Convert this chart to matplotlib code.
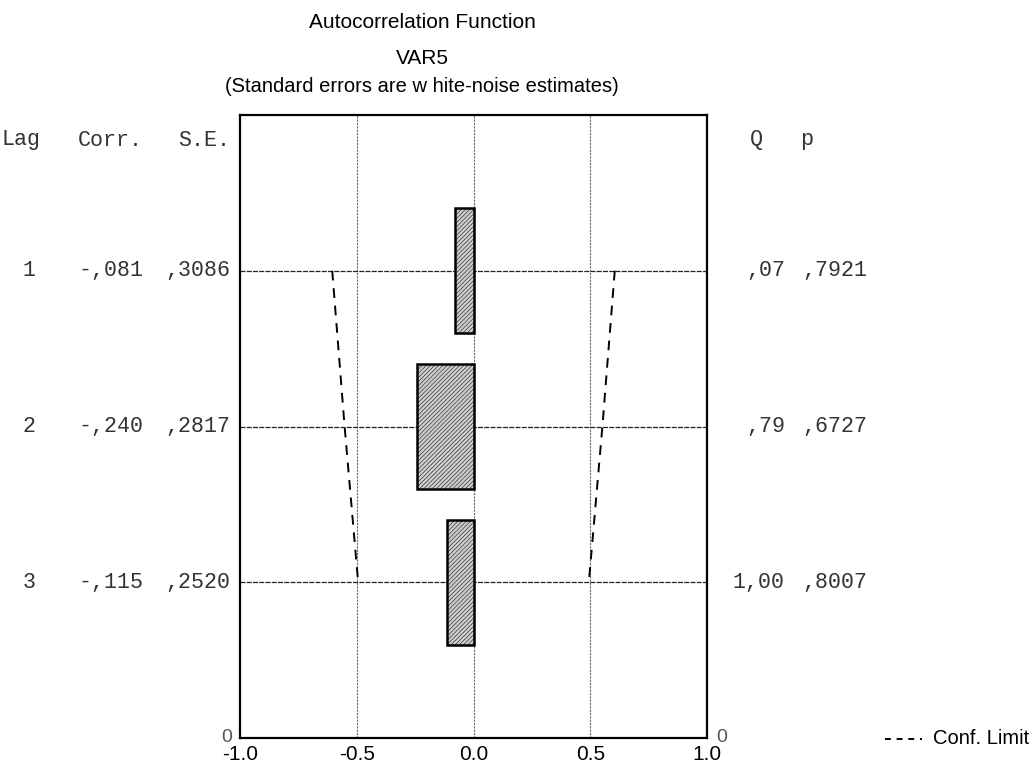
import matplotlib.pyplot as plt
from matplotlib.lines import Line2D

lags = [1, 2, 3]
corr = [-0.081, -0.240, -0.115]
se = [0.3086, 0.2817, 0.2520]
q_stat = [0.07, 0.79, 1.00]
p_val = [0.7921, 0.6727, 0.8007]
conf_limit = [0.605, 0.552, 0.494]
x_ticks = [-1.0, -0.5, 0.0, 0.5, 1.0]


def virgula(v, casas):
    # estilo STATISTICA: virgula decimal e sem zero inicial
    s = f"{v:.{casas}f}".replace(".", ",")
    if s.startswith("0,"):
        s = s[1:]
    elif s.startswith("-0,"):
        s = "-" + s[2:]
    return s


mono = "Liberation Mono"
sans = "Liberation Sans"
fs_mono = 15.6

fig = plt.figure(figsize=(10.33, 7.74), dpi=100)
W, H = 1033, 774
ax = fig.add_axes([240 / W, 1 - 738 / H, 467 / W, 623 / H])

ax.set_xlim(-1, 1)
ax.set_ylim(4, 0)

# linhas de grade verticais
for xv in [-0.5, 0.0, 0.5]:
    ax.axvline(xv, color="#666666", lw=0.8, ls=(0, (2, 1)), zorder=1)

# linhas horizontais em cada lag
for lg in lags:
    ax.axhline(lg, color="#222222", lw=0.9, ls=(0, (4, 1)), zorder=1)

# barras
plt.rcParams["hatch.color"] = "#a8a8a8"
plt.rcParams["hatch.linewidth"] = 0.35
ax.barh(lags, corr, height=0.8, left=0, color="#cdcdcd", edgecolor="black",
        linewidth=1.8, hatch="////////", zorder=3)

# limites de confianca
ax.plot([-c for c in conf_limit], lags, color="black", lw=1.4, ls=(0, (5, 4)), zorder=4)
ax.plot(conf_limit, lags, color="black", lw=1.4, ls=(0, (5, 4)), zorder=4)

for s in ax.spines.values():
    s.set_linewidth(1.6)
ax.set_yticks([])
ax.set_xticks(x_ticks)
ax.set_xticklabels([f"{t:.1f}" for t in x_ticks], fontsize=15, family=sans)
ax.tick_params(axis="x", length=0, pad=5)

# titulos
fig.text(422 / W, 1 - 23 / H, "Autocorrelation Function", ha="center", va="center",
         fontsize=15, family=sans)
fig.text(422 / W, 1 - 58 / H, "VAR5", ha="center", va="center", fontsize=15, family=sans)
fig.text(422 / W, 1 - 87 / H, "(Standard errors are w hite-noise estimates)", ha="center",
         va="center", fontsize=14.5, family=sans)

# cabecalhos das colunas
txt_cor = "#333333"
fig.text(2 / W, 1 - 140 / H, "Lag", ha="left", va="center", fontsize=fs_mono, family=mono, color=txt_cor)
fig.text(143 / W, 1 - 140 / H, "Corr.", ha="right", va="center", fontsize=fs_mono, family=mono, color=txt_cor)
fig.text(230 / W, 1 - 140 / H, "S.E.", ha="right", va="center", fontsize=fs_mono, family=mono, color=txt_cor)
fig.text(750 / W, 1 - 140 / H, "Q", ha="left", va="center", fontsize=fs_mono, family=mono, color=txt_cor)
fig.text(800 / W, 1 - 140 / H, "p", ha="left", va="center", fontsize=fs_mono, family=mono, color=txt_cor)

# valores por lag
for lg, c, e, q, p in zip(lags, corr, se, q_stat, p_val):
    yf = ax.transData.transform((0, lg))[1] / H
    fig.text(36 / W, yf, str(lg), ha="right", va="center", fontsize=fs_mono, family=mono, color=txt_cor)
    fig.text(143 / W, yf, virgula(c, 3), ha="right", va="center", fontsize=fs_mono, family=mono, color=txt_cor)
    fig.text(230 / W, yf, virgula(e, 4), ha="right", va="center", fontsize=fs_mono, family=mono, color=txt_cor)
    fig.text(785 / W, yf, virgula(q, 2), ha="right", va="center", fontsize=fs_mono, family=mono, color=txt_cor)
    fig.text(867 / W, yf, virgula(p, 4), ha="right", va="center", fontsize=fs_mono, family=mono, color=txt_cor)

# zeros no rodape
fig.text(232 / W, 1 - 737 / H, "0", ha="right", va="center", fontsize=14, family=sans, color="#555555")
fig.text(716 / W, 1 - 737 / H, "0", ha="left", va="center", fontsize=14, family=sans, color="#555555")

# legenda
fig.add_artist(Line2D([885 / W, 922 / W], [1 - 739 / H, 1 - 739 / H], color="black",
                      lw=1.4, ls=(0, (3, 3))))
fig.text(933 / W, 1 - 738 / H, "Conf. Limit", ha="left", va="center", fontsize=14.5, family=sans)

fig.savefig("out.png", dpi=100)
